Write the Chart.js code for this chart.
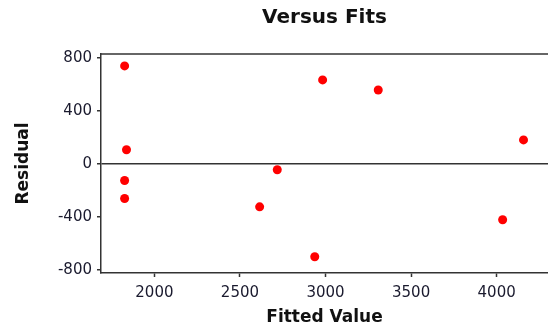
<!DOCTYPE html>
<html>
<head>
<meta charset="utf-8">
<script src="https://cdn.jsdelivr.net/npm/chart.js@4.4.1/dist/chart.umd.min.js"></script>
<style>
	html, body { margin: 0; padding: 0; background: #ffffff; overflow: hidden; }
	#fitsCanvas { display: block; }
</style>
</head>
<body>
<canvas id="fitsCanvas" width="548" height="333"></canvas>
<script>
// residuals against fitted values
var fittedValues = [1826, 1837, 1826, 1826, 2718, 2615, 2937, 2983, 3308, 4035, 4157];
var residualValues = [740, 106, -126, -262, -45, -325, -702, 634, 558, -423, 181];
var xTickValues = [2000, 2500, 3000, 3500, 4000];
var yTickValues = [-800, -400, 0, 400, 800];

var pointArr = [];
for (var idx in fittedValues) {
	pointArr.push({ x: fittedValues[idx], y: residualValues[idx] });
}

// top edge of the plot box
var topBorderPlugin = {
	id: 'topBorder',
	afterDraw: function (chart) {
		var area = chart.chartArea;
		var ctx = chart.ctx;
		ctx.save();
		ctx.strokeStyle = '#333333';
		ctx.lineWidth = 1.5;
		ctx.beginPath();
		ctx.moveTo(area.left, area.top);
		ctx.lineTo(area.right, area.top);
		ctx.stroke();
		ctx.restore();
	}
};

var tickFont = { family: 'DejaVu Sans', size: 15 };
var titleFont = { family: 'DejaVu Sans', size: 17, weight: 'bold' };

var ctx = document.getElementById('fitsCanvas');
var myChart = new Chart(ctx, {
	type: 'scatter',
	data: {
		datasets: [
			{
				data: pointArr,
				backgroundColor: '#ff0000',
				borderColor: '#ff0000',
				pointRadius: 4.5,
				borderWidth: 0
			}
		]
	},
	options: {
		responsive: false,
		animation: false,
		layout: { padding: 0, autoPadding: false },
		scales: {
			x: {
				type: 'linear',
				min: 1688,
				max: 4300,
				afterBuildTicks: function (scale) {
					scale.ticks = xTickValues.map(function (v) { return { value: v }; });
				},
				afterFit: function (scale) {
					scale.height = 60;
					scale.paddingLeft = 0;
					scale.paddingRight = 0;
				},
				ticks: {
					color: '#1a1a2e', font: tickFont, padding: 7, maxRotation: 0,
					callback: function (v) { return String(v); }
				},
				grid: { drawOnChartArea: false, tickLength: 4, tickColor: '#333333', tickWidth: 1.5 },
				border: { color: '#333333', width: 1.5 },
				title: { display: true, text: 'Fitted Value', color: '#111111', font: titleFont, padding: { top: 0, bottom: 5 } }
			},
			y: {
				type: 'linear',
				min: -825,
				max: 830,
				afterBuildTicks: function (scale) {
					scale.ticks = yTickValues.map(function (v) { return { value: v }; });
				},
				afterFit: function (scale) { scale.width = 101; },
				ticks: {
					color: '#1a1a2e', font: tickFont, padding: 5,
					callback: function (v) { return String(v); }
				},
				grid: {
					drawOnChartArea: true,
					tickLength: 4,
					tickColor: '#333333',
					tickWidth: 1.5,
					lineWidth: 1.5,
					color: function (c) { return (c.tick && c.tick.value === 0) ? '#333333' : 'rgba(0,0,0,0)'; }
				},
				border: { color: '#333333', width: 1.5 },
				title: { display: true, text: 'Residual', color: '#111111', font: titleFont, padding: { top: 13, bottom: 0 } }
			}
		},
		plugins: {
			legend: { display: false },
			tooltip: { enabled: false },
			title: {
				display: true,
				fullSize: false,
				text: 'Versus Fits',
				color: '#111111',
				font: { family: 'DejaVu Sans', size: 20, weight: 'bold', lineHeight: 1.2 },
				padding: { top: 6, bottom: 24 }
			}
		}
	},
	plugins: [topBorderPlugin]
});
</script>
</body>
</html>
